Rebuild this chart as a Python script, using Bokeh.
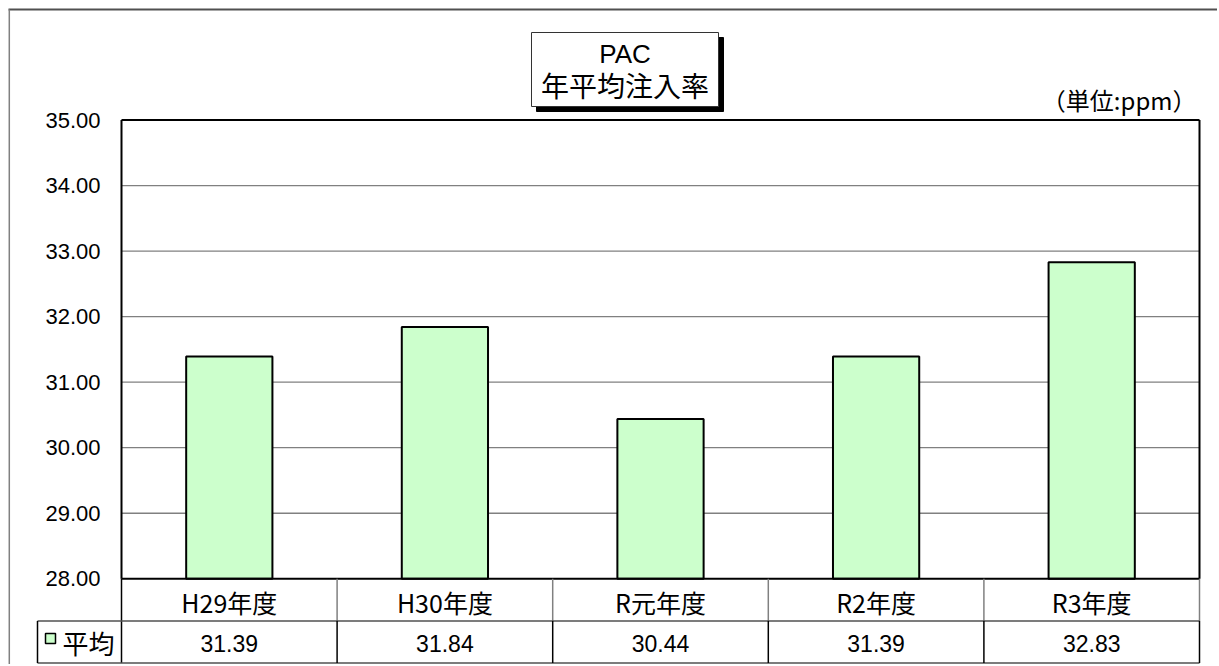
from bokeh.plotting import figure
from bokeh.models import Range1d, FixedTicker
from bokeh.core.properties import value
from bokeh.embed import file_html
from bokeh.resources import INLINE

# ---------------- data ----------------
categories = ["H29年度", "H30年度", "R元年度", "R2年度", "R3年度"]
averages = [31.39, 31.84, 30.44, 31.39, 32.83]
series_name = "平均"
y_ticks = [28, 29, 30, 31, 32, 33, 34, 35]
y_tick_labels = ["28.00", "29.00", "30.00", "31.00", "32.00", "33.00", "34.00", "35.00"]
title_lines = ["PAC", "年平均注入率"]
unit_label = "（単位:ppm）"

# ---------------- layout (pixel geometry of the page) ----------------
W, H = 1217, 664
ORIGIN = 0
PLOT_L, PLOT_R = 121.0, 1199.0
PLOT_T, PLOT_B = 119.5, 578.3
Y_MIN, Y_MAX = y_ticks[0], y_ticks[-1]
N = len(categories)
SX = (PLOT_R - PLOT_L) / N
SY = (PLOT_B - PLOT_T) / (Y_MAX - Y_MIN)


def X(px):
    return (px - PLOT_L) / SX


def Y(py):
    return Y_MIN + (PLOT_B - py) / SY


LATIN = "Liberation Sans"
CJK = "Noto Sans CJK JP"

p = figure(width=W, height=H, output_backend="svg", toolbar_location=None,
           x_range=Range1d(X(ORIGIN), X(ORIGIN + W)),
           y_range=Range1d(Y(ORIGIN + H), Y(ORIGIN)),
           x_axis_location=None, min_border=0)
p.min_border_left = p.min_border_right = p.min_border_top = p.min_border_bottom = 0
p.outline_line_color = None
p.xgrid.visible = False
p.ygrid.visible = False
p.background_fill_color = "white"
p.border_fill_color = "white"

# y axis drawn at the left edge of the plot area
ax = p.yaxis[0]
ax.fixed_location = 0
ax.ticker = FixedTicker(ticks=y_ticks)
ax.major_label_overrides = {t: l for t, l in zip(y_ticks, y_tick_labels)}
ax.axis_line_color = None
ax.major_tick_line_color = None
ax.minor_tick_line_color = None
ax.major_tick_out = 0
ax.major_tick_in = 0
ax.major_label_standoff = 21
ax.major_label_text_font = LATIN
ax.major_label_text_font_size = "22px"
ax.major_label_text_color = "black"

# outer frame (top and left edges visible)
p.segment(x0=[X(8)], y0=[Y(9)], x1=[X(ORIGIN + W)], y1=[Y(9)],
          line_color="#505050", line_width=2)
p.segment(x0=[X(8.8)], y0=[Y(9)], x1=[X(8.8)], y1=[Y(ORIGIN + H)],
          line_color="#808080", line_width=1.5)

# grid lines
grid_y = y_ticks[1:-1]
p.segment(x0=[0] * len(grid_y), y0=grid_y, x1=[N] * len(grid_y), y1=grid_y,
          line_color="#808080", line_width=1.3)

# bars
xs = [i + 0.5 for i in range(N)]
p.vbar(x=xs, top=averages, bottom=Y_MIN, width=0.4,
       fill_color="#CCFFCC", line_color="black", line_width=2)

# plot-area border
p.segment(x0=[0, 0, N, 0], y0=[Y_MAX, Y_MIN, Y_MIN, Y_MAX],
          x1=[N, N, N, 0], y1=[Y_MAX, Y_MIN, Y_MAX, Y_MIN],
          line_color="black", line_width=2)

# data table
ROW1_B = Y(620.5)
ROW2_B = Y(662.5)
LEG_L = X(37.0)
# row 1 vertical separators
p.segment(x0=list(range(1, N + 1)), y0=[Y_MIN] * N, x1=list(range(1, N + 1)), y1=[ROW1_B] * N,
          line_color="#808080", line_width=1.5)
p.segment(x0=[0], y0=[Y_MIN], x1=[0], y1=[ROW2_B], line_color="black", line_width=1.5)
# row 2 borders
p.segment(x0=[LEG_L, LEG_L], y0=[ROW1_B, ROW2_B], x1=[N, N], y1=[ROW1_B, ROW2_B],
          line_color="#505050", line_width=1.5)
row2_v = [LEG_L] + list(range(1, N + 1))
p.segment(x0=row2_v, y0=[ROW1_B] * len(row2_v), x1=row2_v, y1=[ROW2_B] * len(row2_v),
          line_color="black", line_width=1.5)

row1_mid = Y(601.0)
row2_mid = Y(643.0)
p.text(x=xs, y=[row1_mid] * N, text=categories, text_font=value(CJK),
       text_font_size="25px", text_align="center", text_baseline="middle", text_color="black")
p.text(x=xs, y=[row2_mid] * N, text=["%.2f" % v for v in averages], text_font=value(LATIN),
       text_font_size="23px", text_align="center", text_baseline="middle", text_color="black")

# legend key in table
p.rect(x=[X(50.0)], y=[Y(638.0)], width=10, height=10, width_units="screen", height_units="screen",
       fill_color="#CCFFCC", line_color="black", line_width=1.5)
p.text(x=[X(62.0)], y=[Y(642.0)], text=[series_name], text_font=value(CJK),
       text_font_size="26px", text_align="left", text_baseline="middle", text_color="black")

# title box with shadow
BX0, BX1, BY0, BY1 = X(531.0), X(718.0), Y(32.0), Y(106.0)
DX, DY = 5 / SX, 5 / SY
p.quad(left=[BX0 + DX], right=[BX1 + DX], top=[BY0 - DY], bottom=[BY1 - DY],
       fill_color="black", line_color="black")
p.quad(left=[BX0], right=[BX1], top=[BY0], bottom=[BY1],
       fill_color="white", line_color="#333333", line_width=1)
cx = (BX0 + BX1) / 2
p.text(x=[cx], y=[Y(53.0)], text=[title_lines[0]], text_font=value(LATIN),
       text_font_size="26px", text_align="center", text_baseline="middle", text_color="black")
p.text(x=[cx], y=[Y(84.0)], text=[title_lines[1]], text_font=value(CJK),
       text_font_size="28px", text_align="center", text_baseline="middle", text_color="black")

# unit label
p.text(x=[X(1196.0)], y=[Y(99.0)], text=[unit_label], text_font=value(CJK),
       text_font_size="24px", text_align="right", text_baseline="middle", text_color="black")

open("out.html", "w").write(file_html(p, INLINE))
